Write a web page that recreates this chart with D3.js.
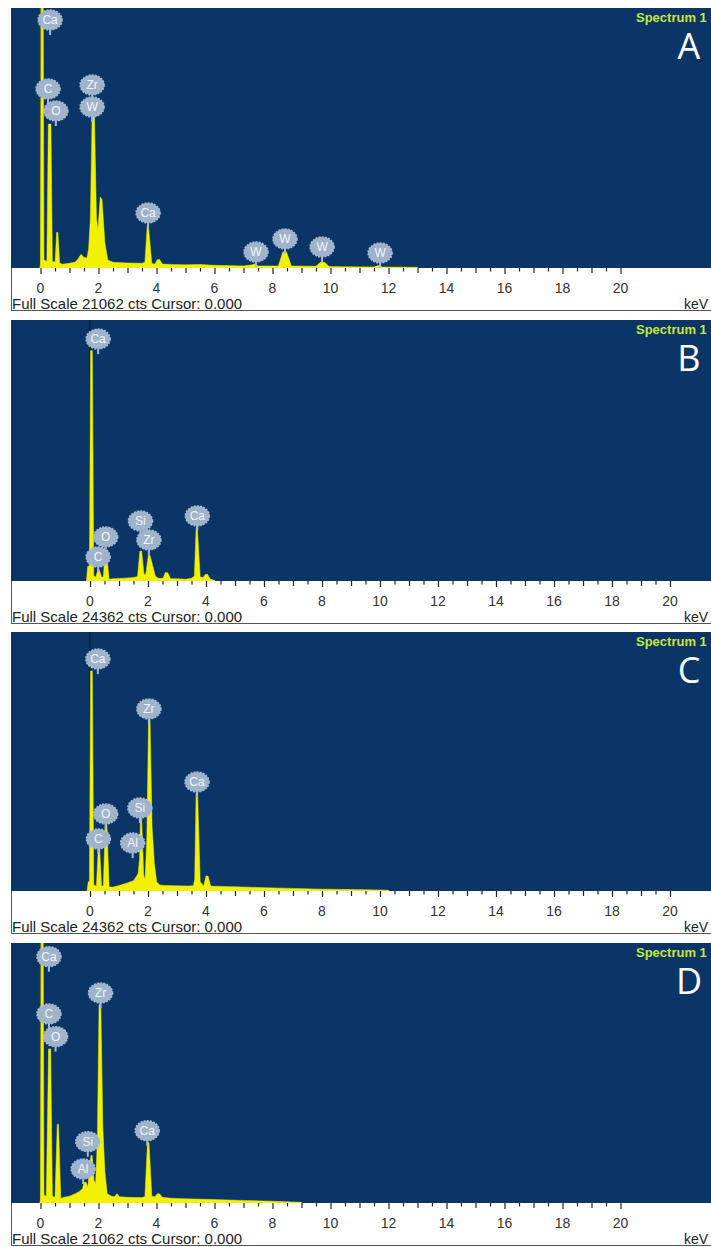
<!DOCTYPE html>
<html><head><meta charset="utf-8">
<script src="https://cdn.jsdelivr.net/npm/d3@7/dist/d3.min.js"></script>
<style>html,body{margin:0;padding:0;background:#fff;}svg{display:block;}</style>
</head><body>
<svg id="c" width="711" height="1247"></svg>
<script>
// ---------- DATA ----------
const panelLetters = ["A", "B", "C", "D"];
const fullScale = [21062, 24362, 24362, 21062];
const tickLabels = [0, 2, 4, 6, 8, 10, 12, 14, 16, 18, 20];

// spectra: [energy keV, counts]
const spectrumA = [[-0.02,0],[0.0,300],[0.03,24000],[0.09,24000],[0.12,600],[0.22,500],[0.27,11600],[0.36,11600],[0.41,500],
 [0.50,400],[0.56,2850],[0.60,2800],[0.66,350],[0.75,250],[1.0,330],[1.2,420],[1.3,700],[1.4,1050],[1.5,800],[1.6,750],
 [1.66,1500],[1.72,4000],[1.78,12216],[1.86,12216],[1.93,4000],[1.98,3000],[2.06,5687],[2.12,5500],[2.22,2000],[2.32,600],
 [2.5,400],[3.0,350],[3.5,320],[3.6,400],[3.68,3370],[3.72,3370],[3.84,300],[3.95,260],[4.02,600],[4.1,650],[4.2,260],
 [4.5,230],[5.0,200],[5.5,230],[6.0,160],[7.0,110],[7.3,200],[7.4,280],[7.5,110],[8.2,110],[8.36,1260],[8.48,1260],[8.65,110],
 [9.5,80],[9.65,400],[9.8,400],[9.95,60],[10.5,40],[11.5,30],[11.65,150],[11.8,20],[12.5,10],[13.0,0]];
const spectrumB = [[-0.12,0],[-0.08,1300],[-0.02,1300],[0.02,21438],[0.08,21438],[0.13,400],[0.2,300],[0.27,975],[0.32,975],
 [0.4,300],[0.46,300],[0.52,2607],[0.57,2607],[0.66,100],[0.8,150],[1.2,200],[1.5,250],[1.64,350],[1.72,2729],[1.78,2729],
 [1.86,600],[1.92,500],[1.97,1500],[2.02,2436],[2.07,2300],[2.15,1500],[2.25,400],[2.35,200],[2.52,200],[2.6,730],[2.68,700],
 [2.78,150],[3.0,150],[3.3,100],[3.5,200],[3.6,400],[3.66,4945],[3.70,4945],[3.8,300],[3.9,250],[3.98,560],[4.05,560],
 [4.15,100],[4.3,0]];
const spectrumC = [[-0.1,0],[-0.06,800],[-0.02,800],[0.02,20635],[0.08,20635],[0.13,500],[0.22,400],[0.29,4044],[0.33,4044],
 [0.40,400],[0.46,400],[0.53,6383],[0.58,6383],[0.66,300],[0.8,300],[1.0,450],[1.3,700],[1.5,900],[1.6,1300],[1.66,1600],
 [1.71,3000],[1.74,6821],[1.78,6821],[1.85,1500],[1.9,970],[1.96,5000],[2.02,16079],[2.07,16079],[2.14,6000],[2.22,2500],
 [2.3,800],[2.4,500],[2.6,450],[3.0,420],[3.4,400],[3.56,420],[3.61,1000],[3.66,9209],[3.71,9209],[3.8,800],[3.92,400],
 [4.0,1340],[4.07,1340],[4.16,400],[4.3,380],[5.0,330],[6.0,250],[7.0,180],[8.0,110],[9.0,70],[10.0,30],[10.3,0]];
const spectrumD = [[-0.02,0],[0.0,300],[0.03,24000],[0.09,24000],[0.12,600],[0.2,500],[0.28,12427],[0.35,12427],[0.41,500],
 [0.5,400],[0.58,6319],[0.62,6319],[0.7,300],[0.8,400],[1.0,500],[1.2,700],[1.35,900],[1.45,1100],[1.5,1622],[1.57,1622],
 [1.63,1200],[1.7,3000],[1.74,3791],[1.78,3791],[1.84,1800],[1.9,1500],[1.96,5000],[2.02,16007],[2.08,16007],[2.15,6000],
 [2.22,2500],[2.3,700],[2.45,500],[2.55,450],[2.64,700],[2.72,450],[3.0,400],[3.5,380],[3.6,450],[3.69,4844],[3.74,4844],
 [3.84,500],[3.95,450],[4.03,700],[4.1,700],[4.2,400],[4.5,330],[5.0,280],[6.0,220],[7.0,150],[8.0,90],[8.7,30],[9.0,0]];

// element badges: [element, energy keV, counts at badge centre]
const labelsA = [["Ca",0.33,20090],["C",0.26,14500],["O",0.53,12718],["Zr",1.78,14822],["W",1.78,13042],["Ca",3.71,4456],
 ["W",7.43,1296],["W",8.43,2349],["W",9.71,1701],["W",11.71,1215]];
const labelsB = [["Ca",0.28,22585],["C",0.28,2240],["O",0.54,4107],["Si",1.74,5600],["Zr",2.03,3827],["Ca",3.7,6067]];
const labelsC = [["Ca",0.27,21823],["C",0.29,4891],["O",0.54,7243],["Al",1.47,4515],["Si",1.72,7807],["Zr",2.03,17119],["Ca",3.69,10253]];
const labelsD = [["Ca",0.29,19953],["C",0.29,15311],["O",0.52,13472],["Al",1.47,2754],["Si",1.63,4966],["Zr",2.07,17011],["Ca",3.68,5856]];

const spectra = [spectrumA, spectrumB, spectrumC, spectrumD];
const labels = [labelsA, labelsB, labelsC, labelsD];

// ---------- LAYOUT ----------
const svg = d3.select("#c");
const tops = [8, 320, 632, 943];
const heights = [260, 261, 259, 260];
const zeroX = [40.5, 90, 90, 40.5];
const left = 11, right = 716, axisH = 43;
const BLUE = "#0a3566", YEL = "#f2f200";
const FONT = "Liberation Sans, Arial, sans-serif";

panelLetters.forEach((L, i) => {
  const top = tops[i], h = heights[i], base = top + h;
  const g = svg.append("g");
  const x = d3.scaleLinear().domain([0, 20]).range([zeroX[i], zeroX[i] + 580]);
  const y = d3.scaleLinear().domain([0, fullScale[i]]).range([base, top]);

  g.append("rect").attr("x", left).attr("y", top).attr("width", right - left).attr("height", h).attr("fill", BLUE);
  g.append("rect").attr("x", left).attr("y", base).attr("width", right - left).attr("height", axisH).attr("fill", "#fff");
  g.append("line").attr("x1", left + 0.5).attr("x2", left + 0.5).attr("y1", base).attr("y2", base + axisH)
    .attr("stroke", "#555").attr("stroke-width", 1);
  g.append("line").attr("x1", left).attr("x2", right).attr("y1", base + axisH - 0.5).attr("y2", base + axisH - 0.5)
    .attr("stroke", "#555").attr("stroke-width", 1);

  const cid = "clip" + i;
  svg.append("clipPath").attr("id", cid).append("rect").attr("x", left).attr("y", top).attr("width", right - left).attr("height", h);
  const pg = g.append("g").attr("clip-path", `url(#${cid})`);

  pg.append("line").attr("x1", x(0)).attr("x2", x(0)).attr("y1", top).attr("y2", base)
    .attr("stroke", i === 0 || i === 3 ? "#5a5a2a" : "#0d1a2a").attr("stroke-width", 1.2);

  const area = d3.area().x(d => x(d[0])).y0(y(0)).y1(d => y(d[1]) - 0.7);
  pg.append("path").datum(spectra[i]).attr("d", area).attr("fill", YEL).attr("stroke", YEL).attr("stroke-width", 0.5);

  labels[i].forEach(([el, e, c]) => {
    const bx = x(e), by = y(c);
    const b = pg.append("g");
    b.append("line").attr("x1", bx).attr("x2", bx).attr("y1", by + 6).attr("y2", by + 15)
      .attr("stroke", "#a9bbd0").attr("stroke-width", 2);
    b.append("ellipse").attr("cx", bx).attr("cy", by).attr("rx", 12).attr("ry", 10)
      .attr("fill", "#9fb3cb").attr("stroke", "#a9bbd0").attr("stroke-width", 1.5).attr("stroke-dasharray", "2,1.2");
    b.append("text").attr("x", bx).attr("y", by + 4.3).attr("text-anchor", "middle")
      .attr("font-family", FONT).attr("font-size", 12).attr("fill", "#f2f5fa").text(el);
  });

  const ax = d3.axisBottom(x).tickValues(d3.range(0, 20.001, 0.5)).tickFormat("").tickSizeOuter(0);
  const axg = g.append("g").attr("transform", `translate(0,${base})`).call(ax);
  axg.select(".domain").remove();
  axg.selectAll(".tick line").attr("stroke", "#222").attr("stroke-width", 1.2)
    .attr("y2", d => (Math.abs(d % 2) < 1e-9 ? 6 : (Math.abs(d % 1) < 1e-9 ? 5 : 3.5)));
  g.selectAll(".tl").data(tickLabels).enter().append("text")
    .attr("x", d => x(d)).attr("y", base + 25).attr("text-anchor", "middle")
    .attr("font-family", FONT).attr("font-size", 14).attr("fill", "#333").text(d => d);

  g.append("text").attr("x", 12).attr("y", base + 41).attr("font-family", FONT)
    .attr("font-size", 15).attr("fill", "#222").text(`Full Scale ${fullScale[i]} cts Cursor: 0.000`);
  g.append("text").attr("x", 684).attr("y", base + 41).attr("font-family", FONT)
    .attr("font-size", 14).attr("fill", "#222").text("keV");

  g.append("text").attr("x", 636).attr("y", top + 14).attr("font-family", FONT)
    .attr("font-size", 13).attr("font-weight", "bold").attr("fill", "#c8e63c").text("Spectrum 1");
  g.append("text").attr("x", 689).attr("y", top + 51).attr("text-anchor", "middle")
    .attr("font-family", "Open Sans, sans-serif").attr("font-size", 36).attr("fill", "#fff").text(L);
});
</script>
</body></html>
